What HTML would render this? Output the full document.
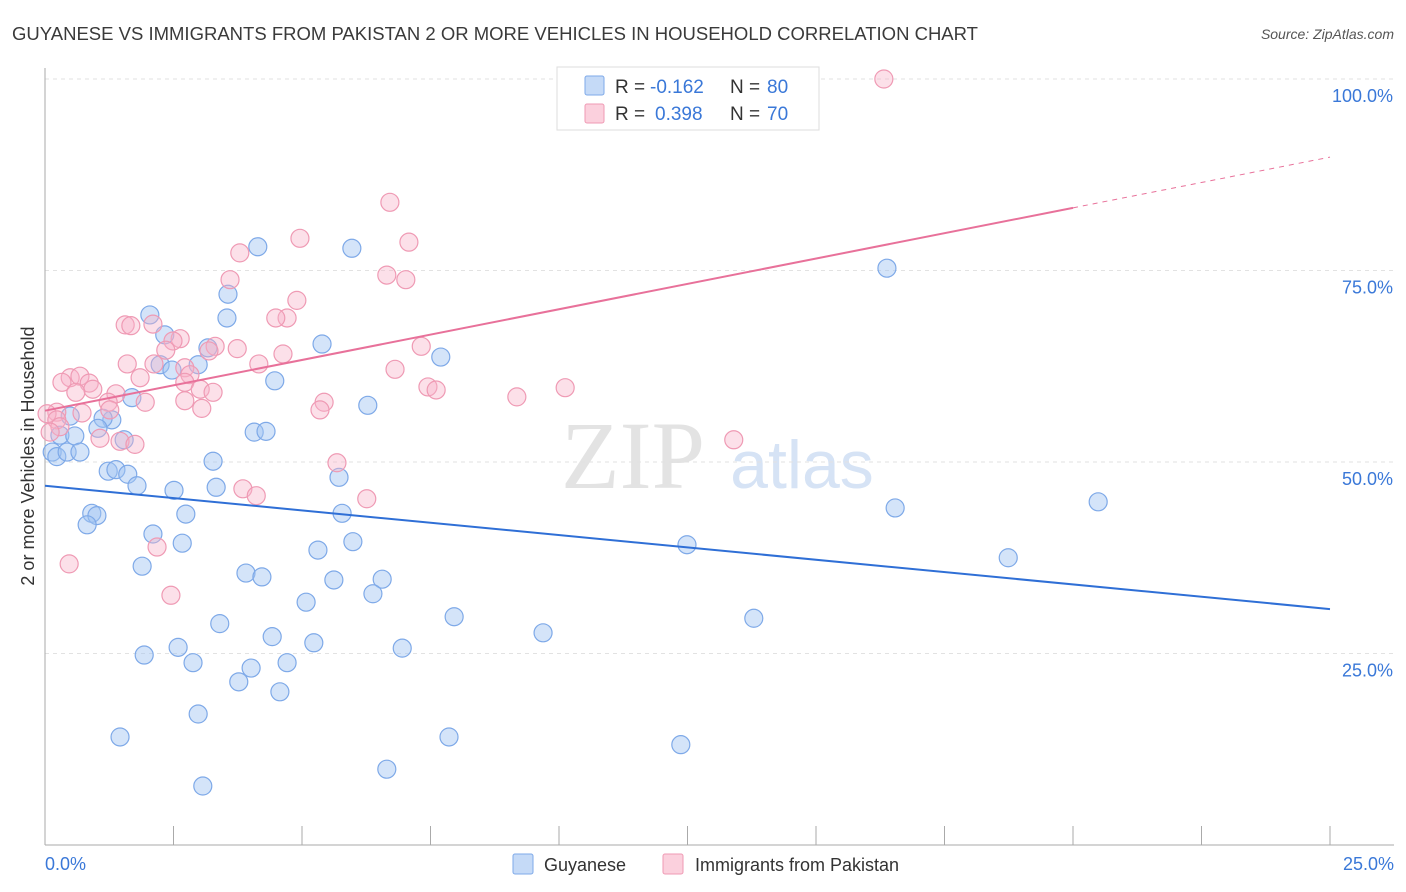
<!DOCTYPE html>
<html><head><meta charset="utf-8"><style>
body{margin:0;background:#fff;font-family:"Liberation Sans",sans-serif;}
svg{display:block}
</style></head><body>
<svg id="c" width="1406" height="892" viewBox="0 0 1406 892">
<text x="12" y="40" font-size="18" textLength="966" lengthAdjust="spacingAndGlyphs" fill="#3a3a3a">GUYANESE VS IMMIGRANTS FROM PAKISTAN 2 OR MORE VEHICLES IN HOUSEHOLD CORRELATION CHART</text>
<text x="1394" y="39" font-size="14" fill="#555" font-style="italic" text-anchor="end">Source: ZipAtlas.com</text>
<text x="633" y="488" font-size="96" fill="#e3e3e3" font-family="Liberation Serif,serif" text-anchor="middle">ZIP</text>
<text x="802" y="488" font-size="68" fill="#d6e3f5" text-anchor="middle">atlas</text>
<text transform="translate(34,456) rotate(-90)" font-size="18" fill="#333" text-anchor="middle">2 or more Vehicles in Household</text>
<g id="grid"></g><g id="pts"></g><g id="lines"></g>
<g>
<rect x="557" y="67" width="262" height="63" fill="#fff" stroke="#ddd"/>
<rect x="585" y="76" width="19" height="19" fill="#c5daf7" stroke="#7ea9e8" rx="2"/>
<rect x="585" y="104" width="19" height="19" fill="#fbd0dd" stroke="#ef9ab4" rx="2"/>
<text x="615" y="93" font-size="19" fill="#333">R =</text>
<text x="650" y="93" font-size="19" fill="#3a78d8">-0.162</text>
<text x="730" y="93" font-size="19" fill="#333">N =</text>
<text x="767" y="93" font-size="19" fill="#3a78d8">80</text>
<text x="615" y="120" font-size="19" fill="#333">R =</text>
<text x="655" y="120" font-size="19" fill="#3a78d8">0.398</text>
<text x="730" y="120" font-size="19" fill="#333">N =</text>
<text x="767" y="120" font-size="19" fill="#3a78d8">70</text>
</g>
<g>
<rect x="513" y="854" width="20" height="20" fill="#c5daf7" stroke="#7ea9e8" rx="2"/>
<text x="544" y="871" font-size="18" fill="#333">Guyanese</text>
<rect x="663" y="854" width="20" height="20" fill="#fbd0dd" stroke="#ef9ab4" rx="2"/>
<text x="695" y="871" font-size="18" fill="#333">Immigrants from Pakistan</text>
</g>
</svg>
<script>
const blueX=[],blueY=[],pinkX=[],pinkY=[];
const bluePx=[[258,247],[352,248],[887,268],[228,294],[150,315],[227,318],[165,335],[322,344],[208,348],[441,357],[160,365],[172,370],[198,365],[275,381],[132,398],[368,405],[70,416],[112,420],[103,418],[98,428],[60,435],[124,440],[75,436],[254,432],[266,431],[52,452],[57,457],[67,452],[80,452],[213,461],[108,471],[116,470],[128,474],[137,486],[174,490],[216,487],[339,477],[1098,502],[895,508],[92,513],[97,516],[186,514],[342,513],[87,525],[153,534],[182,543],[353,542],[318,550],[687,545],[1008,558],[142,566],[246,573],[262,577],[334,580],[382,579],[373,594],[306,602],[454,617],[754,618],[543,633],[220,624],[272,637],[314,643],[402,648],[178,647],[144,655],[193,663],[287,663],[251,668],[239,682],[280,692],[198,714],[120,737],[449,737],[681,745],[387,769],[203,786]];
const pinkPx=[[884,79],[390,202],[300,238],[409,242],[240,253],[387,275],[230,280],[406,280],[297,300],[287,318],[276,318],[125,325],[131,326],[153,324],[180,339],[173,341],[166,350],[215,346],[237,349],[209,351],[421,346],[283,354],[127,364],[154,364],[185,368],[190,375],[259,364],[395,369],[70,378],[80,376],[62,382],[89,383],[93,389],[140,378],[185,382],[428,387],[436,390],[565,388],[76,392],[517,397],[116,394],[200,389],[213,392],[145,402],[185,401],[108,402],[202,408],[324,402],[320,410],[82,413],[110,410],[57,412],[47,414],[57,420],[60,427],[50,432],[100,438],[120,441],[135,444],[734,440],[337,463],[243,489],[256,496],[367,499],[157,547],[69,564],[171,595]];
bluePx.forEach(p=>{blueX.push(+((p[0]-45)/51.4).toFixed(2));blueY.push(+((845-p[1])/7.66).toFixed(1));});
pinkPx.forEach(p=>{pinkX.push(+((p[0]-45)/51.4).toFixed(2));pinkY.push(+((845-p[1])/7.66).toFixed(1));});
const blueTrend=[46.9,30.8];
const pinkTrend=[56.7,89.8];
const yTicks=[25,50,75,100];
const xLabels=["0.0%","25.0%"];
const NS="http://www.w3.org/2000/svg";
const sx=v=>45+v*51.4, sy=v=>845-v*7.66;
function mk(t,a,parent){const e=document.createElementNS(NS,t);for(const k in a)e.setAttribute(k,a[k]);document.getElementById(parent).appendChild(e);return e;}
for(const t of yTicks){
 const g=mk('line',{x1:45,x2:1394,y1:sy(t),y2:sy(t),stroke:'#e2e2e2','stroke-dasharray':'4,4'},'grid');
 
 
 const l=mk('text',{x:1393,y:sy(t)+23,'font-size':18,fill:'#3a78d8','text-anchor':'end'},'grid');
 l.textContent=t.toFixed(1)+'%';
 
 
}
let ax=mk('line',{x1:45,x2:1394,y1:845,y2:845,stroke:'#aaa'},'grid');


let ay=mk('line',{x1:45,x2:45,y1:68,y2:845,stroke:'#aaa'},'grid');


for(let i=1;i<=10;i++){const t=mk('line',{x1:sx(i*2.5),x2:sx(i*2.5),y1:826,y2:845,stroke:'#aaa'},'grid');
 
 }
let x0=mk('text',{x:45,y:870,'font-size':18,fill:'#3a78d8'},'grid');x0.textContent=xLabels[0];


let x1=mk('text',{x:1394,y:870,'font-size':18,fill:'#3a78d8','text-anchor':'end'},'grid');x1.textContent=xLabels[1];


blueX.forEach((x,i)=>{const c=mk('circle',{cx:sx(x),cy:sy(blueY[i]),r:9,fill:'rgba(160,196,242,0.45)',stroke:'#7ea9e8','stroke-width':1.2},'pts');
 
 });
pinkX.forEach((x,i)=>{const c=mk('circle',{cx:sx(x),cy:sy(pinkY[i]),r:9,fill:'rgba(248,178,200,0.4)',stroke:'#ef9ab4','stroke-width':1.2},'pts');
 
 });
let bl=mk('line',{x1:sx(0),y1:sy(blueTrend[0]),x2:sx(25),y2:sy(blueTrend[1]),stroke:'#2f6fd6','stroke-width':2},'lines');


const pAt=x=>pinkTrend[0]+(pinkTrend[1]-pinkTrend[0])*x/25;
let pl=mk('line',{x1:sx(0),y1:sy(pAt(0)),x2:sx(20),y2:sy(pAt(20)),stroke:'#e8719a','stroke-width':2},'lines');


let pd=mk('line',{x1:sx(20),y1:sy(pAt(20)),x2:sx(25),y2:sy(pAt(25)),stroke:'#e8719a','stroke-width':1,'stroke-dasharray':'5,5'},'lines');


</script>
</body></html>
